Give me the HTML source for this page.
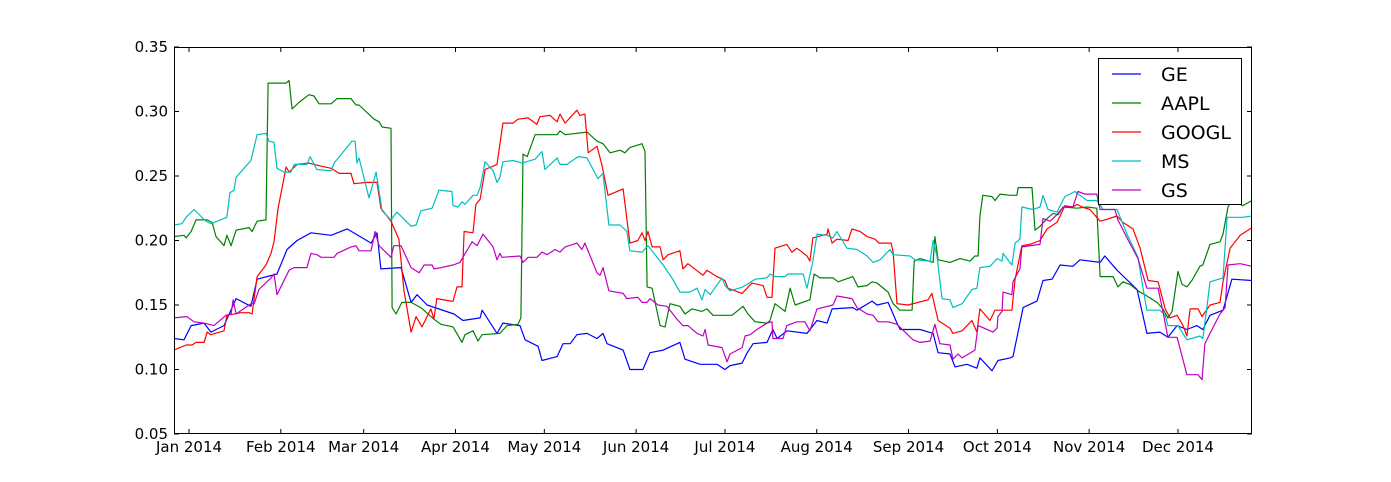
<!DOCTYPE html>
<html><head><meta charset="utf-8"><style>
body{margin:0;background:#fff;}
svg{display:block;font-family:"DejaVu Sans","Liberation Sans",sans-serif;}
</style></head><body>
<svg id="chart" width="1391" height="482" viewBox="0 0 1391 482" xmlns="http://www.w3.org/2000/svg"></svg>
<script>
const yTicks=[0.05,0.10,0.15,0.20,0.25,0.30,0.35];
const monthLabels=["Jan 2014","Feb 2014","Mar 2014","Apr 2014","May 2014","Jun 2014","Jul 2014","Aug 2014","Sep 2014","Oct 2014","Nov 2014","Dec 2014"];
const monthDays=[0,31,59,90,120,151,181,212,243,273,304,334];
const seriesNames=["GE","AAPL","GOOGL","MS","GS"];
const geDays=[-5.1,-1.7,0.7,5.1,7.4,11.8,15.9,20.9,23.0,29.7,33.1,36.5,41.2,48.0,53.4,61.5,63.5,64.8,71.6,75.0,77.0,80.4,89.5,92.5,98.3,99.0,104.0,106.0,111.8,113.5,117.9,119.2,124.3,126.3,128.7,131.0,134.4,137.8,139.8,141.2,146.6,148.9,153.3,155.7,160.1,165.8,167.5,172.6,178.3,181.0,182.7,186.8,188.5,190.5,195.2,197.2,198.6,202.0,208.7,212.1,215.5,217.2,224.2,225.6,230.7,232.4,236.1,239.1,240.2,246.9,251.3,253.0,257.0,258.7,262.7,266.1,267.1,271.2,273.2,277.3,278.3,281.7,286.4,288.4,291.5,294.2,298.5,300.9,307.7,309.3,313.4,320.2,323.5,327.9,330.6,333.7,337.0,340.4,342.4,344.8,349.2,352.2,359.0];
const geVals=[.124,.123,.134,.136,.129,.134,.155,.149,.170,.174,.193,.200,.206,.204,.209,.198,.206,.178,.179,.152,.158,.150,.143,.138,.140,.146,.128,.136,.134,.123,.118,.107,.110,.120,.120,.127,.128,.124,.128,.120,.115,.100,.100,.113,.115,.121,.108,.104,.104,.100,.103,.105,.113,.120,.121,.131,.124,.130,.128,.138,.136,.147,.148,.146,.153,.150,.152,.136,.131,.131,.128,.113,.112,.102,.104,.101,.109,.099,.107,.109,.110,.148,.153,.169,.170,.181,.180,.185,.183,.188,.177,.162,.128,.129,.125,.134,.131,.134,.131,.142,.146,.170,.169];
const aaplDays=[-5.1,-1.7,-1.0,0.7,2.4,6.1,7.8,9.1,11.8,12.8,14.2,15.9,20.3,21.3,23.0,26.0,26.7,32.8,33.8,34.8,37.1,40.5,42.2,43.9,48.0,50.0,54.7,56.4,57.4,62.5,64.2,65.2,68.2,68.6,69.9,71.9,75.0,78.3,82.7,85.1,89.2,92.2,93.2,95.9,97.6,99.0,105.0,107.4,111.1,112.1,112.8,114.2,116.9,124.3,125.3,127.0,134.4,137.8,139.8,142.2,145.6,147.2,148.9,153.0,154.0,154.7,156.4,159.1,160.8,162.4,165.8,167.5,169.9,173.2,174.9,177.0,183.4,187.1,188.8,191.2,195.2,196.2,197.9,201.3,203.0,204.7,209.7,211.1,213.1,217.5,219.2,224.2,225.9,229.0,230.7,232.4,236.1,237.8,240.1,244.2,244.9,246.9,251.3,251.9,253.0,257.0,260.4,263.8,265.4,266.5,267.1,268.1,271.2,272.2,273.9,277.3,279.6,280.0,284.7,285.7,287.4,289.8,291.8,293.5,295.2,299.9,303.3,306.6,307.7,312.1,313.7,315.4,317.8,320.5,323.5,326.9,328.9,330.6,332.0,334.0,335.4,337.0,338.7,341.4,342.4,344.8,348.2,349.2,350.9,352.2,355.9,359.0];
const aaplVals=[.203,.204,.202,.207,.216,.216,.214,.203,.196,.204,.196,.208,.210,.207,.215,.216,.322,.322,.324,.302,.307,.313,.312,.306,.306,.310,.310,.305,.305,.294,.292,.288,.287,.148,.143,.152,.152,.148,.139,.135,.133,.121,.127,.130,.122,.127,.128,.134,.135,.140,.267,.265,.282,.282,.285,.282,.284,.277,.275,.268,.270,.268,.272,.275,.269,.164,.163,.134,.133,.151,.149,.143,.147,.145,.147,.142,.142,.149,.143,.137,.136,.138,.151,.145,.163,.150,.154,.174,.171,.171,.168,.172,.164,.165,.168,.167,.160,.151,.146,.146,.184,.186,.183,.203,.185,.183,.186,.184,.188,.188,.219,.235,.234,.231,.236,.235,.235,.241,.241,.208,.211,.217,.221,.220,.226,.225,.226,.225,.172,.172,.164,.168,.166,.161,.157,.152,.147,.140,.145,.176,.166,.164,.169,.180,.181,.197,.199,.205,.226,.231,.227,.231];
const googlDays=[-5.1,-1.0,1.0,2.4,5.1,6.1,7.4,11.8,12.8,17.6,20.3,21.3,23.0,26.0,27.7,28.7,30.1,32.8,33.8,36.5,40.5,43.9,48.0,50.7,54.7,55.7,60.1,63.5,64.8,68.2,70.9,72.6,75.0,76.7,78.7,81.7,82.7,83.7,88.5,89.2,90.5,92.2,92.9,95.9,96.9,98.3,100.0,104.0,106.0,109.4,111.1,114.5,117.5,118.5,121.9,124.3,125.3,127.0,131.0,132.0,133.7,134.8,137.8,139.5,141.5,146.6,148.9,151.6,153.0,154.0,155.0,156.4,159.1,160.1,161.8,165.8,166.8,168.5,173.6,174.9,178.3,181.0,182.0,186.8,190.1,193.9,195.2,196.9,197.9,201.9,203.6,205.3,208.7,209.7,210.7,215.5,215.8,217.2,218.8,222.6,223.9,226.6,229.0,231.7,233.0,237.1,237.8,239.1,242.8,249.6,250.9,253.0,257.0,258.0,261.1,264.4,266.1,267.1,270.5,272.2,274.9,277.9,279.0,281.3,284.0,287.4,289.8,293.1,294.2,295.8,298.5,299.9,301.6,304.3,307.7,309.3,313.4,315.4,318.8,321.2,323.9,327.3,329.7,331.3,333.7,335.7,337.0,338.1,340.8,342.1,344.8,348.2,349.2,351.6,355.0,359.0];
const googlVals=[.115,.119,.119,.121,.121,.129,.127,.130,.142,.144,.144,.143,.172,.181,.190,.199,.225,.257,.253,.259,.260,.258,.256,.252,.252,.244,.245,.245,.225,.215,.201,.161,.129,.141,.133,.147,.139,.155,.153,.153,.164,.164,.207,.206,.228,.232,.255,.259,.291,.291,.294,.295,.290,.296,.297,.292,.298,.291,.301,.297,.298,.268,.273,.258,.235,.240,.198,.200,.206,.200,.207,.195,.195,.185,.189,.192,.178,.182,.173,.177,.172,.169,.163,.159,.167,.165,.156,.156,.194,.197,.191,.194,.188,.184,.202,.205,.209,.198,.201,.200,.209,.207,.203,.201,.198,.198,.191,.151,.150,.154,.159,.138,.132,.128,.130,.138,.129,.147,.138,.146,.146,.146,.170,.196,.197,.200,.209,.214,.219,.227,.226,.228,.226,.224,.215,.216,.219,.214,.209,.194,.169,.168,.147,.140,.142,.134,.126,.147,.147,.141,.150,.152,.168,.194,.204,.210];
const msDays=[-5.1,-2.4,-1.0,1.7,5.7,7.4,12.8,13.8,15.2,15.9,20.9,23.0,26.0,27.0,28.7,29.7,32.1,34.4,35.5,39.8,40.9,43.2,48.0,49.0,55.0,56.1,56.7,57.4,60.8,63.2,65.2,68.2,70.2,75.0,76.7,78.3,82.1,84.4,88.8,89.2,90.8,92.2,93.2,95.9,97.3,98.3,100.0,102.7,104.0,105.0,106.0,109.4,112.5,116.9,119.2,120.2,124.3,125.3,127.7,131.4,134.4,138.1,139.8,141.8,145.6,147.9,148.9,153.0,155.0,157.4,160.1,163.1,165.8,169.2,171.6,173.2,174.3,176.0,180.0,181.0,182.7,187.1,191.2,195.2,196.2,197.9,201.3,202.3,207.4,208.7,210.7,212.1,215.5,217.5,218.8,222.2,225.6,229.0,231.0,233.4,236.7,237.8,243.5,245.2,250.3,251.3,252.6,254.3,257.0,258.0,261.1,264.4,266.1,267.1,270.5,272.9,274.6,274.9,277.9,279.0,280.6,281.3,285.0,287.4,288.4,290.1,293.1,295.8,299.2,300.9,303.3,306.6,308.7,313.4,316.8,320.5,322.2,323.5,327.9,329.7,330.6,334.0,337.0,341.4,342.4,343.8,344.8,349.2,350.6,355.9,359.0];
const msVals=[.212,.213,.218,.224,.215,.213,.218,.237,.239,.249,.262,.282,.283,.277,.276,.256,.253,.253,.259,.259,.265,.255,.254,.260,.277,.277,.260,.264,.233,.253,.223,.216,.222,.211,.212,.223,.225,.239,.238,.227,.226,.230,.228,.235,.235,.241,.261,.254,.245,.249,.261,.262,.260,.263,.269,.255,.264,.259,.259,.265,.264,.248,.252,.212,.212,.207,.192,.191,.196,.189,.181,.171,.160,.160,.163,.154,.162,.158,.171,.165,.161,.164,.170,.171,.174,.172,.172,.174,.174,.163,.184,.205,.204,.202,.207,.194,.193,.188,.183,.185,.193,.189,.188,.185,.184,.200,.188,.155,.154,.148,.151,.162,.163,.179,.180,.186,.184,.190,.181,.198,.201,.226,.224,.226,.235,.224,.222,.234,.238,.235,.231,.231,.224,.224,.205,.187,.163,.146,.146,.142,.134,.134,.123,.126,.124,.149,.168,.171,.218,.218,.219];
const gsDays=[-5.1,-0.7,1.7,5.1,8.4,12.5,14.2,14.9,15.9,20.9,22.0,23.6,27.7,28.7,29.7,33.8,35.5,39.8,41.2,43.2,44.6,49.0,50.0,54.7,56.4,57.4,61.5,62.8,64.2,68.2,69.2,71.6,75.0,77.7,79.4,82.1,82.7,85.1,89.2,91.5,95.6,97.3,99.3,102.7,104.0,105.0,105.7,111.8,112.8,114.5,117.5,119.2,120.9,123.6,125.3,127.0,131.0,132.7,133.7,137.8,138.8,139.8,141.8,146.6,147.9,151.6,153.0,154.7,155.7,158.4,161.4,164.8,166.8,168.5,171.6,173.6,174.3,175.3,180.0,181.7,182.7,186.8,187.8,189.5,191.8,195.2,196.9,197.2,200.6,201.9,205.3,208.0,209.7,212.1,217.5,218.8,223.9,225.6,229.0,231.0,232.7,236.1,239.1,244.5,246.9,250.3,251.9,253.6,257.0,258.0,259.7,261.1,265.4,266.5,271.5,272.9,273.2,274.6,274.9,277.9,278.3,280.6,281.3,287.4,288.4,290.8,293.1,295.2,298.5,300.2,302.6,306.6,307.7,312.7,313.7,316.8,320.5,323.5,327.3,328.9,330.6,333.7,337.0,340.8,342.1,343.1,344.8,348.2,349.9,350.9,355.0,359.0];
const gsVals=[.140,.141,.137,.136,.134,.142,.143,.154,.143,.151,.151,.162,.171,.174,.158,.177,.179,.179,.190,.189,.187,.187,.190,.195,.196,.192,.192,.207,.196,.187,.196,.196,.179,.175,.181,.181,.178,.179,.181,.183,.199,.196,.205,.195,.185,.190,.187,.188,.183,.187,.187,.191,.189,.193,.191,.195,.198,.193,.198,.175,.173,.179,.161,.159,.155,.156,.152,.152,.155,.150,.149,.139,.134,.134,.128,.126,.131,.119,.117,.106,.112,.117,.126,.127,.131,.136,.137,.124,.124,.134,.137,.137,.130,.147,.150,.157,.155,.148,.143,.142,.137,.137,.135,.123,.121,.122,.135,.120,.119,.108,.112,.109,.115,.134,.129,.132,.141,.145,.160,.158,.168,.178,.195,.197,.217,.215,.220,.226,.226,.238,.236,.236,.224,.224,.216,.202,.186,.163,.163,.145,.125,.125,.096,.096,.092,.120,.128,.143,.148,.181,.182,.180];

const NS="http://www.w3.org/2000/svg";
const svg=document.getElementById('chart');
const L=174,R=1252,T=47,B=434;
const D0=-5.07,D1=359.0,V0=0.05,V1=0.35;
function xScale(d){return L+(d-D0)/(D1-D0)*(R-L);}
function yScale(v){return B-(v-V0)/(V1-V0)*(B-T);}
function mk(tag,attrs,parent){const e=document.createElementNS(NS,tag);for(const k in attrs)e.setAttribute(k,attrs[k]);(parent||svg).appendChild(e);return e;}

const plotBg=mk('rect',{x:L,y:T,width:R-L,height:B-T,fill:'#fff'});



const colors=['#0000ff','#008000','#ff0000','#00bfbf','#bf00bf'];
const allDays=[geDays,aaplDays,googlDays,msDays,gsDays];
const allVals=[geVals,aaplVals,googlVals,msVals,gsVals];
for(let s=0;s<5;s++){
  const pts=allDays[s].map((d,i)=>xScale(d).toFixed(1)+','+yScale(allVals[s][i]).toFixed(1)).join(' ');
  const pl=mk('polyline',{points:pts,fill:'none',stroke:colors[s],'stroke-width':1.2,'stroke-linejoin':'round'});
  
  
}

const frame=mk('rect',{x:L+0.5,y:T+0.5,width:R-L-1,height:B-T-1,fill:'none',stroke:'#000','stroke-width':1});



yTicks.forEach(v=>{
  const y=yScale(v);
  mk('line',{x1:L,x2:L+5,y1:y,y2:y,stroke:'#000'});
  mk('line',{x1:R-5,x2:R,y1:y,y2:y,stroke:'#000'});
  const t=mk('text',{x:L-6,y:y+5,'text-anchor':'end','font-size':15});
  t.textContent=v.toFixed(2);
  
  
});
monthDays.forEach((d,i)=>{
  const x=xScale(d);
  mk('line',{x1:x,x2:x,y1:B,y2:B-5,stroke:'#000'});
  mk('line',{x1:x,x2:x,y1:T,y2:T+5,stroke:'#000'});
  const t=mk('text',{x:x,y:452,'text-anchor':'middle','font-size':15});
  t.textContent=monthLabels[i];
  
  
});

const lg=mk('g',{});


mk('rect',{x:1098.5,y:58.5,width:143,height:146,fill:'#fff',stroke:'#000','stroke-width':1},lg);
seriesNames.forEach((n,i)=>{
  const y=74+i*29;
  const e=mk('g',{},lg);
  
  
  mk('line',{x1:1112,x2:1141,y1:y,y2:y,stroke:colors[i],'stroke-width':1.2},e);
  const t=mk('text',{x:1161,y:y+7,'font-size':19},e);
  t.textContent=n;
});
</script>
</body></html>
